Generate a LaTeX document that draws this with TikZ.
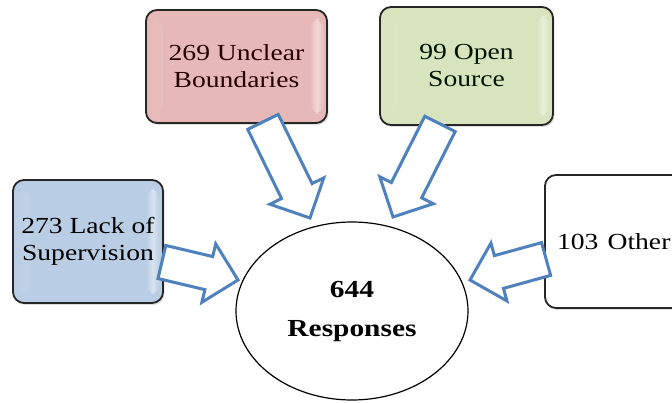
\documentclass[tikz,border=0pt]{standalone}
\usepackage{fontspec}
\usepackage{graphicx}
\setmainfont{Liberation Serif}
\usetikzlibrary{calc,shapes.geometric,shadows}
\definecolor{redfill}{RGB}{230,185,184}
\definecolor{greenfill}{RGB}{215,228,189}
\definecolor{bluefill}{RGB}{185,205,229}
\definecolor{arrowblue}{RGB}{79,129,189}
\newcommand\sx[1]{\scalebox{1.2}[1]{#1}}
\newcommand\blockarrow[5]{% start, tip, shaft half, head half, head length
  \coordinate (ba-base) at ($(#2)!#5!(#1)$);
  \draw[arrowline] ($(#1)!#3!90:(#2)$) -- ($(ba-base)!#3!90:(#2)$) -- ($(ba-base)!#4!90:(#2)$) -- (#2)
    -- ($(ba-base)!#4!-90:(#2)$) -- ($(ba-base)!#3!-90:(#2)$) -- ($(#1)!#3!-90:(#2)$) -- cycle;
}
\begin{document}
\begin{tikzpicture}[x=1pt,y=-1pt,
  catbox/.style={draw=black!85, line width=1.8pt, rounded corners=11pt, align=center,
    font=\fontsize{23}{27}\selectfont, inner sep=0pt, fill=#1,
    drop shadow={opacity=0.25, shadow xshift=1.5pt, shadow yshift=-2pt},
    path picture={
      \shade[left color=#1, right color=white, middle color=white, opacity=0.45]
        ($(path picture bounding box.north west)+(3,9)$) rectangle ($(path picture bounding box.south west)+(17,-9)$);
      \shade[left color=#1, right color=#1, middle color=white, opacity=0.45]
        ($(path picture bounding box.north east)+(-17,9)$) rectangle ($(path picture bounding box.south east)+(-3,-9)$);
    }},
  arrowline/.style={draw=arrowblue, line width=3pt, fill=white, line join=miter},
]
\useasboundingbox (0,0) rectangle (672,403);
\fill[white] (0,0) rectangle (672,403);

% boxes
\node[catbox=redfill, text=black!75!red!60!black, minimum width=181pt, minimum height=113pt] (red) at (236.5,66.5) {\sx{269 Unclear}\\\sx{Boundaries}};
\node[catbox=greenfill, text=black!80!green!40!black, minimum width=173pt, minimum height=118pt] (green) at (466.5,66) {\sx{99 Open}\\\sx{Source}};
\node[catbox=bluefill, text=black, minimum width=150pt, minimum height=123pt] (blue) at (88,241.5) {\sx{273 Lack of}\\\sx{Supervision}};
\node[draw=black!85, line width=1.8pt, rounded corners=11pt, fill=white, inner sep=0pt,
  font=\fontsize{23}{27}\selectfont, drop shadow={opacity=0.25, shadow xshift=1.5pt, shadow yshift=-2pt},
  minimum width=140pt, minimum height=133pt, text width=140pt, align=left] (other) at (615,241.5) {\hspace*{12pt}\sx{103 Other}};

% centre ellipse
\node[draw=black, line width=1.2pt, ellipse, fill=white, minimum width=232pt, minimum height=178pt, align=center,
  font=\fontsize{24.5}{39}\selectfont\bfseries] (resp) at (352,311) {\sx{644}\\\sx{Responses}};

% arrow endpoints
\coordinate (rs) at ($(red.south)+(26.5,-2)$);
\coordinate (rt) at (310,218);
\coordinate (gs) at ($(green.south)+(-26.5,-2)$);
\coordinate (gt) at (393,217);
\coordinate (bs) at ($(blue.east)+(-2,20.5)$);
\coordinate (bt) at (238,280);
\coordinate (os) at ($(other.west)+(2,17.5)$);
\coordinate (ot) at (470,280);

\blockarrow{rs}{rt}{17pt}{30pt}{30pt}
\blockarrow{gs}{gt}{17pt}{30pt}{30pt}
\blockarrow{bs}{bt}{17pt}{30pt}{30pt}
\blockarrow{os}{ot}{17pt}{30pt}{30pt}
\end{tikzpicture}
\end{document}
